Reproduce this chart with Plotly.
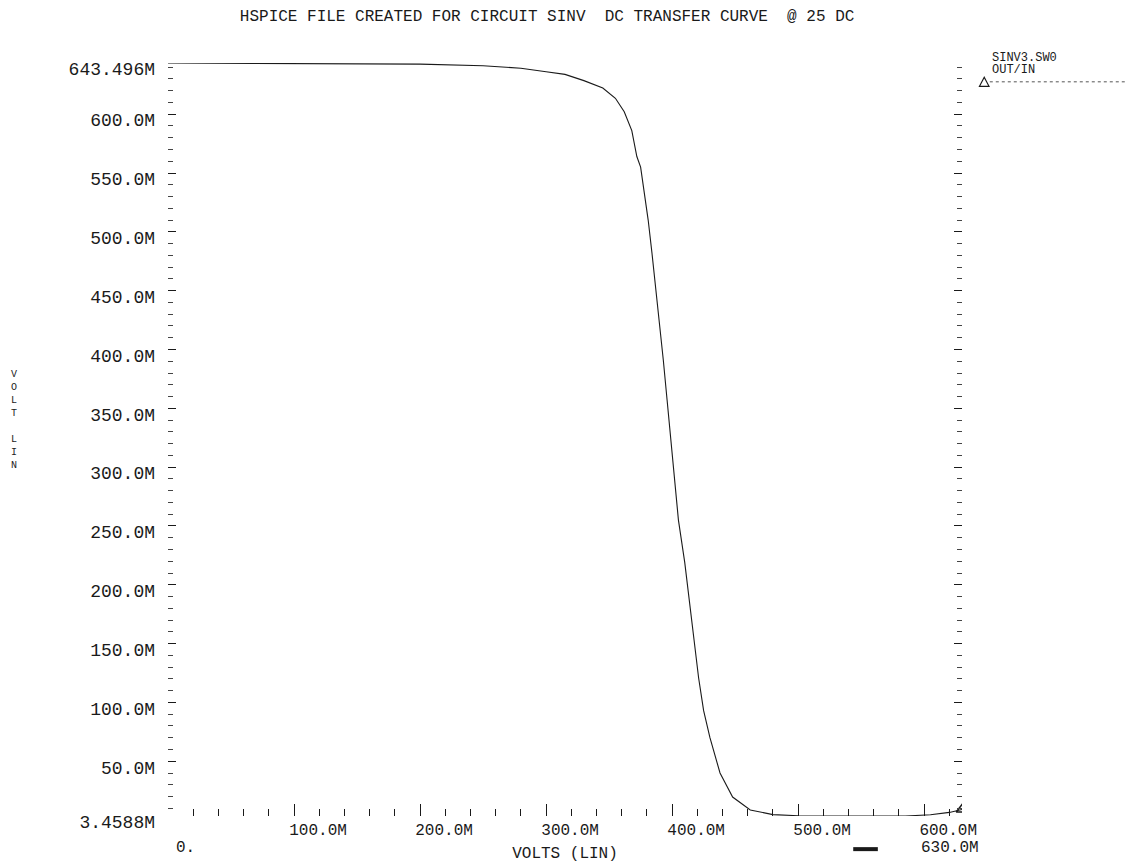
import plotly.graph_objects as go

# ---- data (millivolts) ----
vin = [0, 50, 100, 150, 200, 250, 280, 300, 315, 330, 345, 355, 362, 368, 372, 375,
       378, 381, 384, 387, 390, 393, 396, 399, 402, 405, 410, 413, 417, 421, 425, 430,
       438, 448, 462, 480, 500, 530, 560, 585, 605, 620, 630]
vout = [643.496, 643.4, 643.3, 643.0, 642.5, 641.2, 639.0, 636.0, 633.8, 628.5, 622.2,
        613.5, 602.0, 586.0, 564.0, 555.0, 532.0, 510.0, 482.0, 451.0, 426.0, 391.0,
        357.0, 323.0, 289.0, 255.0, 219.0, 193.0, 156.0, 121.0, 93.0, 70.0, 40.0, 19.6,
        8.6, 4.6, 3.7, 3.5, 3.47, 3.4588, 4.5, 6.5, 9.0]

y_tickvals = [3.4588, 50, 100, 150, 200, 250, 300, 350, 400, 450, 500, 550, 600, 643.496]
y_ticktext = ["3.4588M", "50.0M", "100.0M", "150.0M", "200.0M", "250.0M", "300.0M",
              "350.0M", "400.0M", "450.0M", "500.0M", "550.0M", "600.0M", "643.496M"]
x_tickvals = [100, 200, 300, 400, 500, 600]
x_ticktext = ["100.0M", "200.0M", "300.0M", "400.0M", "500.0M", "600.0M"]
x_end_vals = [0, 630]
x_end_text = ["0.", "630.0M"]

title_text = "HSPICE FILE CREATED FOR CIRCUIT SINV  DC TRANSFER CURVE  @ 25 DC"
legend_lines = ["SINV3.SW0", "OUT/IN"]

FONT = "Liberation Mono, DejaVu Sans Mono, monospace"
INK = "#1a1a1a"

fig = go.Figure()
fig.add_trace(go.Scatter(x=vin, y=vout, mode="lines",
                         line=dict(color=INK, width=1.1), showlegend=False,
                         hoverinfo="skip"))
fig.add_trace(go.Scatter(x=vin[-1:], y=vout[-1:], mode="markers",
                         marker=dict(symbol="triangle-up-open", size=10,
                                     color=INK, line=dict(width=1.6, color=INK)),
                         showlegend=False, hoverinfo="skip"))

# bottom second-row labels
for v, t, sh in zip(x_end_vals, x_end_text, [17, -12]):
    fig.add_annotation(x=v, xref="x", y=-0.0425, yref="paper", text=t, showarrow=False,
                       xshift=sh, xanchor="center", yanchor="middle",
                       font=dict(family=FONT, size=16, color=INK))

# vertical stacked y title
fig.add_annotation(x=-0.194, xref="paper", y=0.526, yref="paper",
                   xanchor="center", yanchor="middle",
                   text="V<br>O<br>L<br>T<br><br>L<br>I<br>N", showarrow=False,
                   font=dict(family=FONT, size=10, color=INK))

# legend block
fig.add_annotation(x=1.035, xref="paper", y=1.007, yref="paper", xanchor="left",
                   yanchor="middle", text=legend_lines[0], showarrow=False,
                   font=dict(family=FONT, size=12, color=INK))
fig.add_annotation(x=1.035, xref="paper", y=0.991, yref="paper", xanchor="left",
                   yanchor="middle", text=legend_lines[1], showarrow=False,
                   font=dict(family=FONT, size=12, color=INK))
fig.add_shape(type="line", xref="paper", yref="paper", x0=1.035, x1=1.205,
              y0=0.975, y1=0.975, line=dict(color="#555", width=1, dash="dot"))
fig.add_shape(type="path", xref="paper", yref="paper",
              path="M 1.022 0.969 L 1.034 0.969 L 1.028 0.981 Z",
              line=dict(color=INK, width=1.2))
# thick dash near the bottom-right label
fig.add_shape(type="line", xref="paper", yref="paper", x0=0.863, x1=0.894,
              y0=-0.044, y1=-0.044, line=dict(color=INK, width=4))

fig.update_layout(
    width=1128, height=863, autosize=False,
    paper_bgcolor="white", plot_bgcolor="white",
    margin=dict(l=168, r=166, t=63, b=47),
    title=dict(text=title_text, x=0.485, xanchor="center", y=0.9826, yanchor="middle",
               font=dict(family=FONT, size=16, color=INK)),
    xaxis=dict(range=[0, 630], showgrid=False, zeroline=False, showline=False,
               automargin=False,
               tickmode="array", tickvals=x_tickvals, ticktext=x_ticktext,
               ticks="inside", ticklen=12, tickwidth=1, tickcolor=INK,
               ticklabelshift=24, ticklabelstandoff=2,
               minor=dict(dtick=20, tick0=0, ticks="inside", ticklen=7,
                          tickcolor=INK, tickwidth=1),
               tickfont=dict(family=FONT, size=16, color=INK),
               title=dict(text="VOLTS (LIN)", standoff=9,
                          font=dict(family=FONT, size=16, color=INK))),
    yaxis=dict(range=[3.4588, 643.496], showgrid=False, zeroline=False, showline=False,
               automargin=False,
               tickmode="array", tickvals=y_tickvals, ticktext=y_ticktext,
               ticks="inside", ticklen=8, tickwidth=1, tickcolor=INK, mirror="ticks",
               minor=dict(dtick=10, tick0=0, ticks="inside", ticklen=5,
                          tickcolor="#444", tickwidth=1),
               ticklabelstandoff=12, ticklabelshift=6,
               tickfont=dict(family=FONT, size=18, color=INK)),
)

fig.write_html("out.html",
               config={"displayModeBar": False},
               post_script="document.body.style.margin='0px';"
                           "document.body.style.overflow='hidden';")
